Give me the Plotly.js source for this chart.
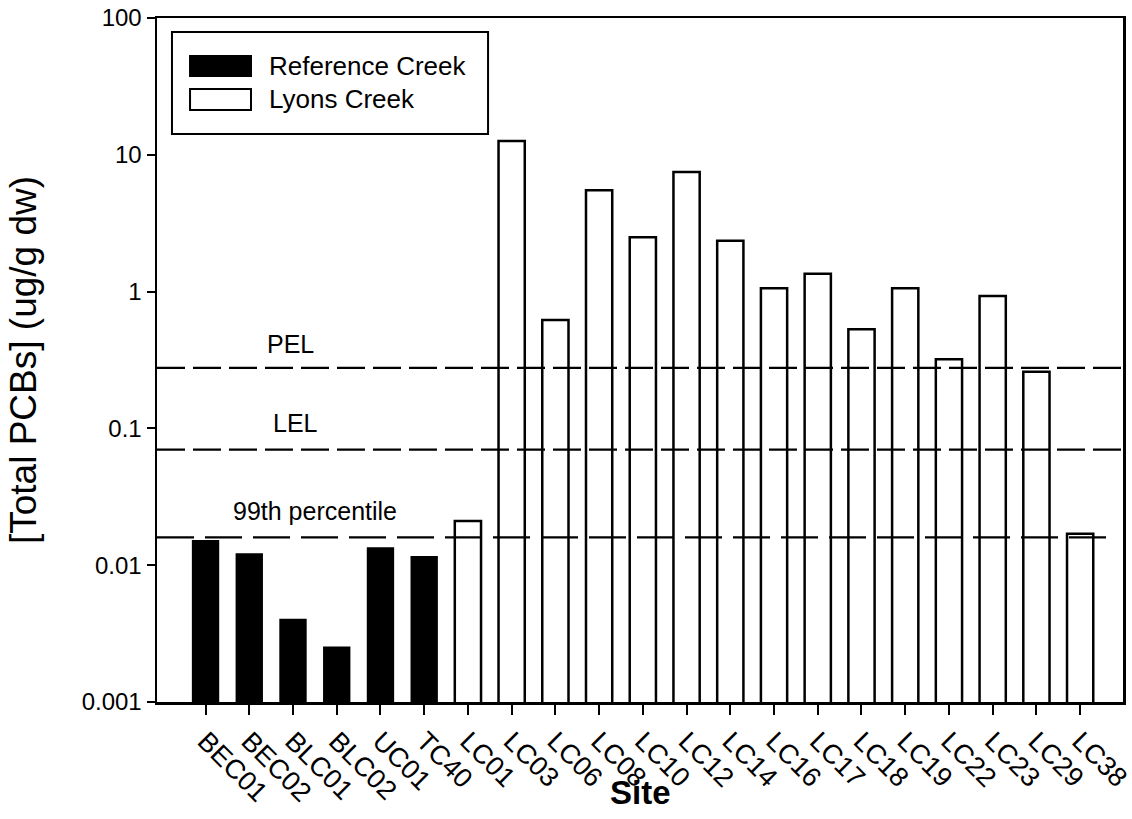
<!DOCTYPE html>
<html>
<head>
<meta charset="utf-8">
<script src="https://cdn.plot.ly/plotly-3.0.1.min.js"></script>
<style>
  html, body { margin: 0; padding: 0; background: #fff; }
  #chart { width: 1132px; height: 819px; }
</style>
</head>
<body>
<div id="chart"></div>
<script>
// Sediment PCB concentrations by sampling site
const referenceSites = ["BEC01", "BEC02", "BLC01", "BLC02", "UC01", "TC40"];
const referenceValues = [0.015, 0.012, 0.0040, 0.0025, 0.0133, 0.0115];

const lyonsSites = ["LC01", "LC03", "LC06", "LC08", "LC10", "LC12", "LC14", "LC16", "LC17",
                    "LC18", "LC19", "LC22", "LC23", "LC29", "LC38"];
const lyonsValues = [0.021, 12.6, 0.62, 5.5, 2.5, 7.5, 2.35, 1.06, 1.35,
                     0.53, 1.06, 0.32, 0.93, 0.26, 0.017];

const seriesNames = ["Reference Creek", "Lyons Creek"];

// Sediment quality guideline levels (ug/g dw)
const guidelineNames = ["PEL", "LEL", "99th percentile"];
const guidelineValues = [0.277, 0.07, 0.016];

const yTickValues = [0.001, 0.01, 0.1, 1, 10, 100];
const yTickLabels = ["0.001", "0.01", "0.1", "1", "10", "100"];

const xTitle = "Site";
const yTitle = "[Total PCBs] (ug/g dw)";

const FONT = "Arial, 'Liberation Sans', sans-serif";
const allSites = referenceSites.concat(lyonsSites);

const traces = [
  {
    type: "bar",
    name: seriesNames[0],
    x: referenceSites,
    y: referenceValues,
    width: 0.58,
    marker: { color: "#000000", line: { color: "#000000", width: 2 } },
    showlegend: false,
    hoverinfo: "x+y"
  },
  {
    type: "bar",
    name: seriesNames[1],
    x: lyonsSites,
    y: lyonsValues,
    width: 0.6,
    marker: { color: "#ffffff", line: { color: "#000000", width: 2.5 } },
    showlegend: false,
    hoverinfo: "x+y"
  }
];

// Guideline lines drawn across the plot, above the bars
const dashes = ["28px,8px", "28px,8px", "37px,11px"];
const shapes = guidelineValues.map((v, i) => ({
  type: "line", layer: "above",
  xref: "paper", yref: "y",
  x0: 0, x1: i === 2 ? 0.988 : 1,
  y0: v, y1: v,
  line: { color: "#000", width: 2.2, dash: dashes[i] }
}));

// Hand-drawn legend box with swatches
shapes.push(
  { type: "rect", xref: "paper", yref: "paper", layer: "above",
    x0: 0.0155, x1: 0.3427, y0: 0.8304, y1: 0.9795,
    fillcolor: "#fff", line: { color: "#000", width: 2 } },
  { type: "rect", xref: "paper", yref: "paper", layer: "above",
    x0: 0.0342, x1: 0.0973, y0: 0.9152, y1: 0.9444,
    fillcolor: "#000", line: { color: "#000", width: 2 } },
  { type: "rect", xref: "paper", yref: "paper", layer: "above",
    x0: 0.0342, x1: 0.0973, y0: 0.8655, y1: 0.8962,
    fillcolor: "#fff", line: { color: "#000", width: 2 } }
);

const labelX = [0.1387, 0.1429, 0.1636];
const labelShift = [8, 11, 10];
const annotations = guidelineNames.map((t, i) => ({
  text: t, xref: "paper", yref: "y",
  x: labelX[i], y: Math.log10(guidelineValues[i]),
  xanchor: "center", yanchor: "bottom", yshift: labelShift[i],
  showarrow: false,
  font: { family: FONT, size: 25, color: "#000" }
}));
annotations.push(
  { text: seriesNames[0], xref: "paper", yref: "paper", x: 0.1139, y: 0.9298,
    xanchor: "left", yanchor: "middle", showarrow: false,
    font: { family: FONT, size: 26, color: "#000" } },
  { text: seriesNames[1], xref: "paper", yref: "paper", x: 0.1139, y: 0.8816,
    xanchor: "left", yanchor: "middle", showarrow: false,
    font: { family: FONT, size: 26, color: "#000" } },
  // x-axis title placed below the slanted site labels
  { text: "<b>" + xTitle + "</b>", xref: "paper", yref: "paper", x: 0.5, y: -0.133,
    xanchor: "center", yanchor: "middle", showarrow: false,
    font: { family: FONT, size: 33, color: "#000" } }
);

const layout = {
  width: 1132, height: 819,
  margin: { l: 157, r: 9, t: 18, b: 117 },
  paper_bgcolor: "#fff",
  plot_bgcolor: "#fff",
  barmode: "overlay",
  showlegend: false,
  font: { family: FONT, color: "#000" },
  xaxis: {
    type: "category",
    categoryorder: "array",
    categoryarray: allSites,
    range: [-1.11, 20.98],
    showgrid: false, zeroline: false,
    showline: true, linecolor: "#000", linewidth: 2.5, mirror: true,
    ticks: "outside", ticklen: 10, tickwidth: 2, tickcolor: "#000",
    tickangle: 45,
    tickfont: { family: FONT, size: 27, color: "#000" }
  },
  yaxis: {
    type: "log",
    range: [-3, 2],
    tickvals: yTickValues,
    ticktext: yTickLabels,
    showgrid: false, zeroline: false,
    showline: true, linecolor: "#000", linewidth: 2.5, mirror: true,
    ticks: "outside", ticklen: 8, tickwidth: 2, tickcolor: "#000",
    tickfont: { family: FONT, size: 24, color: "#000" },
    title: { text: yTitle, font: { family: FONT, size: 37, color: "#000" }, standoff: 34 }
  },
  shapes: shapes,
  annotations: annotations
};

Plotly.newPlot("chart", traces, layout, { displayModeBar: false, staticPlot: true });
</script>
</body>
</html>
